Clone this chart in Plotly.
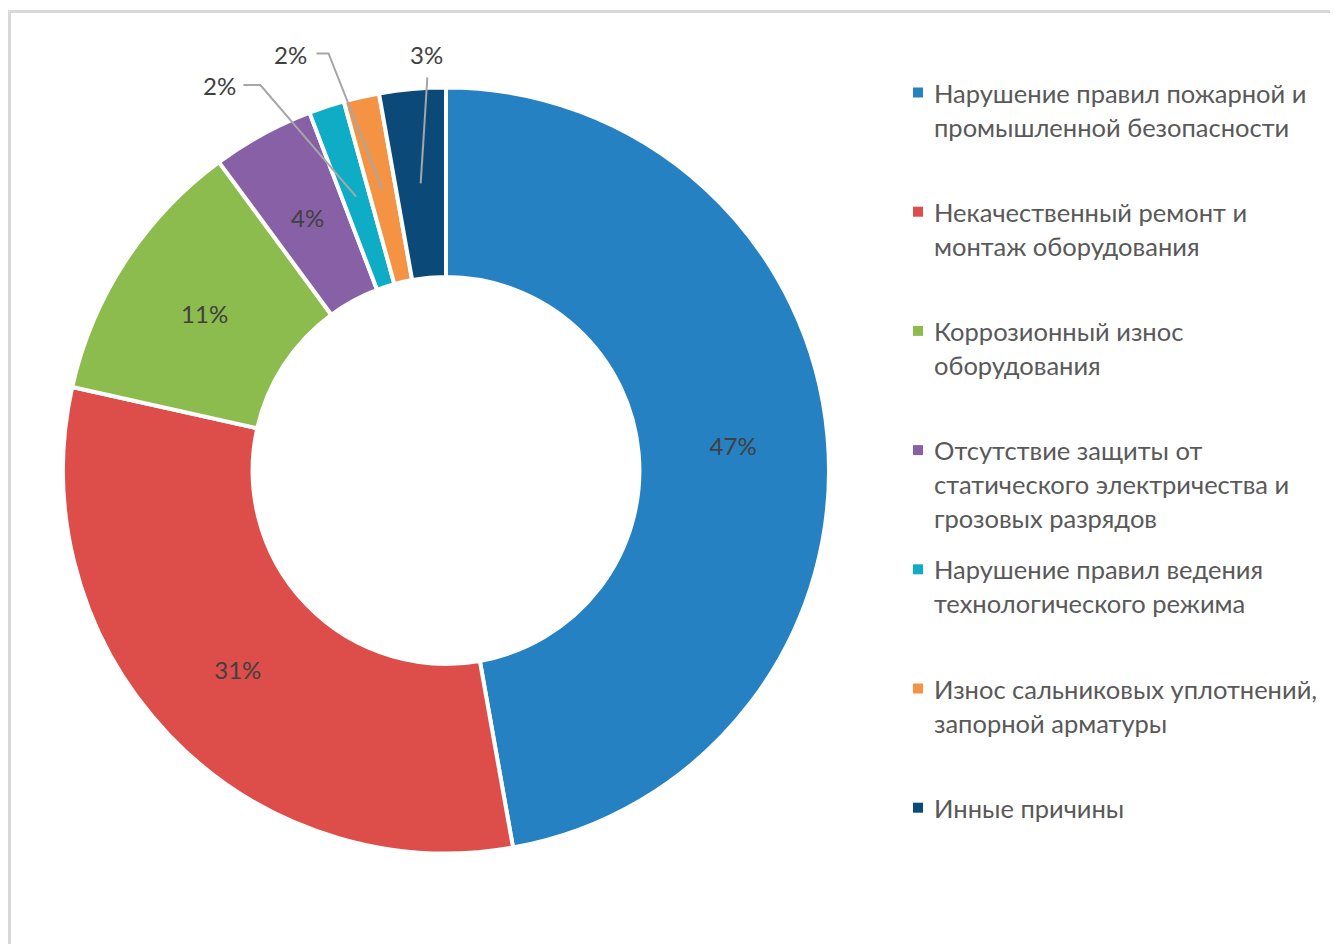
import numpy as np
import plotly.graph_objects as go

# ---------------- data ----------------
legend_lines = [
    ["Нарушение правил пожарной и", "промышленной безопасности"],
    ["Некачественный ремонт и", "монтаж оборудования"],
    ["Коррозионный износ", "оборудования"],
    ["Отсутствие защиты от", "статического электричества и", "грозовых разрядов"],
    ["Нарушение правил ведения", "технологического режима"],
    ["Износ сальниковых уплотнений,", "запорной арматуры"],
    ["Инные причины"],
]
categories = [" ".join(l) for l in legend_lines]
values = [47.2, 31.3, 11.4, 4.3, 1.5, 1.5, 2.8]
pct_labels = ["47%", "31%", "11%", "4%", "2%", "2%", "3%"]
colors = ["#2681C3", "#DD4D49", "#8CBB4E", "#8760A6", "#0FACC6", "#F59345", "#0B4A78"]

# slices whose labels are placed manually (outside with leader lines / narrow slice)
outside_idx = [4, 5, 6]
manual_inside_idx = [3]

# ---------------- layout constants (px, page coords) ----------------
PAGE_OFF = 8                     # body margin of the html page
W, H = 1338 - 2 * PAGE_OFF, 952 - 2 * PAGE_OFF
CX, CY, R = 446, 470.5, 383
HOLE = 0.505
FONT = "Lato"


def px2paper(x, y):
    return (x - PAGE_OFF) / W, 1 - (y - PAGE_OFF) / H


inside_text = [("" if (i in outside_idx or i in manual_inside_idx) else t)
               for i, t in enumerate(pct_labels)]

dx0, dy1 = px2paper(CX - R, CY - R)
dx1, dy0 = px2paper(CX + R, CY + R)

fig = go.Figure()
fig.add_trace(go.Pie(
    labels=categories, values=values, text=inside_text,
    texttemplate="%{text}", textposition="inside",
    insidetextorientation="horizontal",
    hole=HOLE, sort=False, direction="clockwise", rotation=0,
    marker=dict(colors=colors, line=dict(color="white", width=4)),
    textfont=dict(family=FONT, size=24, color="#404040"),
    showlegend=False, hoverinfo="label+percent",
    domain=dict(x=[dx0, dx1], y=[dy0, dy1]),
))

# slice mid-angles (computed from data)
vals = np.array(values, dtype=float)
cum = np.cumsum(vals) / vals.sum() * 360.0
start = np.concatenate([[0.0], cum[:-1]])
mid = (start + cum) / 2.0
r_anchor = R * (1 + HOLE) / 2


def anchor(i):
    a = np.deg2rad(mid[i])
    return CX + r_anchor * np.sin(a), CY - r_anchor * np.cos(a)


shapes = []
annotations = []
label_font = dict(family=FONT, size=24, color="#404040")

for i in manual_inside_idx:
    ax_, ay_ = anchor(i)
    x, y = px2paper(ax_, ay_)
    annotations.append(dict(x=x, y=y, xref="paper", yref="paper", text=pct_labels[i],
                            showarrow=False, xanchor="center", yanchor="middle", font=label_font))

# relative geometry (px) for each outside label: label center, line points
label_style = {
    4: dict(label=(-137, -111), line=[(-112.7, -111.7), (-95.7, -111.7)]),
    5: dict(label=(-92, -135), line=[(-65.7, -136), (-53.7, -136)]),
    6: dict(label=(6, -129), line=[(6.7, -106)]),
}
for i in outside_idx:
    ax_, ay_ = anchor(i)
    st = label_style[i]
    lx, ly = px2paper(ax_ + st["label"][0], ay_ + st["label"][1])
    annotations.append(dict(x=lx, y=ly, xref="paper", yref="paper", text=pct_labels[i],
                            showarrow=False, xanchor="center", yanchor="middle", font=label_font))
    pts = [px2paper(ax_ + dx, ay_ + dy) for dx, dy in st["line"]] + [px2paper(ax_, ay_)]
    path = "M " + " L ".join(f"{x:.5f},{y:.5f}" for x, y in pts)
    shapes.append(dict(type="path", xref="paper", yref="paper", path=path,
                       line=dict(color="#A6A6A6", width=2)))

# legend (manual, to match entry spacing)
LX_SQ, LX_TXT, LY0, LSTEP, LLINE = 913, 932, 92.5, 119.2, 34
for i, lines in enumerate(legend_lines):
    y0 = LY0 + i * LSTEP
    x0p, y0p = px2paper(LX_SQ, y0 - 5)
    x1p, y1p = px2paper(LX_SQ + 10, y0 + 5)
    shapes.append(dict(type="rect", xref="paper", yref="paper", x0=x0p, x1=x1p, y0=y1p, y1=y0p,
                       fillcolor=colors[i], line=dict(width=0)))
    for j, ln in enumerate(lines):
        tx, ty = px2paper(LX_TXT, y0 + j * LLINE)
        annotations.append(dict(x=tx, y=ty, xref="paper", yref="paper", text=ln,
                                showarrow=False, xanchor="left", yanchor="middle",
                                font=dict(family=FONT, size=25.5, color="#595959")))

# chart-area border (top and left visible)
bx, by_top = px2paper(9.5, 11.5)
_, by_bot = px2paper(9.5, 952 + 5)
shapes.append(dict(type="path", xref="paper", yref="paper",
                   path=f"M {bx:.5f},{by_bot:.5f} L {bx:.5f},{by_top:.5f} L 1.02,{by_top:.5f}",
                   line=dict(color="#D9D9D9", width=3)))

fig.update_layout(
    width=W, height=H, margin=dict(l=0, r=0, t=0, b=0),
    paper_bgcolor="white", plot_bgcolor="white",
    shapes=shapes, annotations=annotations,
    font=dict(family=FONT),
)
fig.write_html("out.html")
